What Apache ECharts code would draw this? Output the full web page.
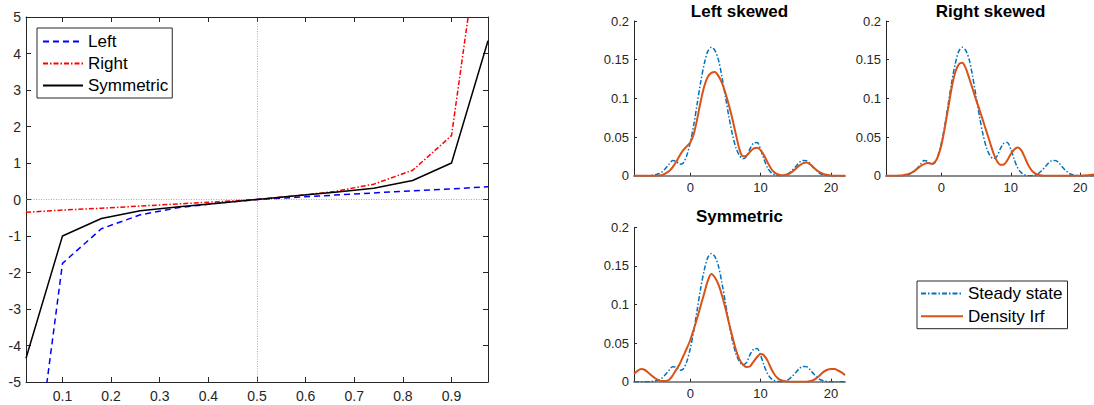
<!DOCTYPE html>
<html>
<head>
<meta charset="utf-8">
<script src="https://cdn.jsdelivr.net/npm/echarts@6/dist/echarts.min.js"></script>
<style>html,body{margin:0;padding:0;background:#fff}#c{width:1094px;height:405px}</style>
</head>
<body>
<div id="c"></div>
<script>
// ---- Left panel: quantile curves ----
const quantiles = [0.025, 0.1, 0.18, 0.26, 0.34, 0.42, 0.5, 0.58, 0.66, 0.74, 0.82, 0.9, 0.975];
const leftVals  = [-9.4, -1.75, -0.8, -0.42, -0.22, -0.1, 0, 0.06, 0.12, 0.18, 0.24, 0.29, 0.35];
const rightVals = [-0.35, -0.29, -0.24, -0.18, -0.12, -0.06, 0, 0.1, 0.22, 0.42, 0.8, 1.75, 8.9];
const symVals   = [-4.35, -1.0, -0.52, -0.31, -0.2, -0.1, 0, 0.1, 0.2, 0.31, 0.52, 1.0, 4.35];
const quantTicks = [0.1, 0.2, 0.3, 0.4, 0.5, 0.6, 0.7, 0.8, 0.9];

// ---- Right panels: densities ----
const xGrid = [-8,-7.5,-7,-6.5,-6,-5.5,-5,-4.5,-4,-3.5,
  -3,-2.5,-2,-1.5,-1,-0.5,0,0.5,1,1.5,
  2,2.5,3,3.5,4,4.5,5,5.5,6,6.5,
  7,7.5,8,8.5,9,9.5,10,10.5,11,11.5,
  12,12.5,13,13.5,14,14.5,15,15.5,16,16.5,
  17,17.5,18,18.5,19,19.5,20,20.5,21,21.5,
  22];
const steadyState = [0,0,0,0,0,0.0003,0.001,0.0025,0.005,0.0095,
  0.015,0.0195,0.0185,0.0148,0.0165,0.026,0.043,0.066,0.094,0.122,
  0.145,0.161,0.166,0.162,0.150,0.128,0.102,0.076,0.053,0.036,
  0.026,0.022,0.025,0.035,0.042,0.043,0.034,0.021,0.010,0.004,
  0.0012,0.0002,0,0.0008,0.003,0.007,0.012,0.017,0.0198,0.0195,
  0.016,0.0105,0.006,0.0025,0.001,0.0002,0,0,0,0,
  0];
const irfLeft = [0,0,0,0,0,0,0,0.0003,0.001,0.003,
  0.006,0.011,0.018,0.026,0.033,0.038,0.043,0.054,0.074,0.097,
  0.116,0.128,0.133,0.134,0.129,0.120,0.107,0.091,0.073,0.053,
  0.034,0.025,0.026,0.031,0.035,0.036,0.033,0.026,0.017,0.009,
  0.004,0.0015,0.0005,0.001,0.002,0.005,0.009,0.013,0.016,0.017,
  0.015,0.011,0.007,0.004,0.002,0.001,0.0003,0,0,0,
  0];
const irfRight = [0,0,0,0,0.0002,0.0006,0.0015,0.003,0.0055,0.009,
  0.0125,0.015,0.0165,0.0155,0.017,0.025,0.040,0.063,0.089,0.115,
  0.134,0.144,0.146,0.139,0.126,0.112,0.098,0.085,0.071,0.057,
  0.043,0.029,0.019,0.014,0.0145,0.020,0.028,0.034,0.0365,0.033,
  0.024,0.014,0.007,0.003,0.001,0.0003,0,0,0,0,
  0,0,0,0,0,0,0,0.0002,0.0005,0.001,
  0.0015];
const irfSym = [0.010,0.014,0.0163,0.0155,0.012,0.008,0.0045,0.002,0.0008,0.0008,
  0.0025,0.008,0.0155,0.023,0.033,0.043,0.054,0.068,0.083,0.099,
  0.115,0.131,0.1395,0.135,0.126,0.112,0.095,0.076,0.058,0.041,
  0.029,0.022,0.019,0.020,0.026,0.032,0.036,0.034,0.027,0.017,
  0.009,0.004,0.0015,0.0005,0,0,0,0,0,0,
  0.0005,0.002,0.005,0.009,0.013,0.0155,0.0164,0.0163,0.0145,0.012,
  0.0085];
const densTicks = [0, 10, 20];
const panelTitles = ['Left skewed', 'Right skewed', 'Symmetric'];

const FONT = '"Liberation Sans", Arial, Helvetica, sans-serif';
const AX = '#262626';
const zip = (xs, ys) => xs.map((x, i) => [x, ys[i]]);

const chart = echarts.init(document.getElementById('c'), null, {renderer: 'svg'});

function densX(gi) {
  return {
    gridIndex: gi, type: 'value', min: -8, max: 22, position: 'bottom',
    axisLine: {show: true, onZero: false, lineStyle: {color: '#8c8c8c', width: 2}},
    axisTick: {show: true, inside: true, length: 3, customValues: densTicks, lineStyle: {color: AX}},
    axisLabel: {show: true, customValues: densTicks, margin: 5, fontSize: 13, color: AX, fontFamily: FONT},
    splitLine: {show: false}
  };
}
function densY(gi) {
  return {
    gridIndex: gi, type: 'value', min: 0, max: 0.2, interval: 0.05, position: 'left',
    axisLine: {show: true, onZero: false, lineStyle: {color: AX, width: 1}},
    axisTick: {show: true, inside: true, length: 3, lineStyle: {color: AX}},
    axisLabel: {show: true, margin: 5, fontSize: 13, color: AX, fontFamily: FONT},
    splitLine: {show: false}
  };
}
// axis index for panel gi (1..3) is gi+1 (indices 0,1 belong to the left panel)
function steady(gi) {
  return {name: 'Steady state', type: 'line', xAxisIndex: gi + 1, yAxisIndex: gi + 1,
    data: zip(xGrid, steadyState), symbol: 'none', smooth: 0.3, z: 3,
    itemStyle: {color: '#0072BD'},
    lineStyle: {color: '#0072BD', width: 1.5, type: [5, 2, 1.5, 2]}};
}
function irf(gi, vals) {
  return {name: 'Density Irf', type: 'line', xAxisIndex: gi + 1, yAxisIndex: gi + 1,
    data: zip(xGrid, vals), symbol: 'none', smooth: 0.3, z: 4,
    itemStyle: {color: '#D95319'},
    lineStyle: {color: '#D95319', width: 2, type: 'solid'}};
}

const legendCommon = {
  orient: 'vertical', borderColor: AX, borderWidth: 1, backgroundColor: '#fff', borderRadius: 0,
  selectedMode: false, itemHeight: 14,
  itemStyle: {opacity: 0, borderWidth: 0},
  textStyle: {fontSize: 17, color: '#000', fontFamily: FONT}
};

const option = {
  animation: false,
  backgroundColor: '#fff',
  textStyle: {fontFamily: FONT},
  grid: [
    {left: 26, top: 17, width: 462, height: 365},
    {left: 634, top: 21, width: 211, height: 154.7},
    {left: 886, top: 21, width: 211, height: 154.7},
    {left: 634, top: 227.3, width: 211, height: 154.4}
  ],
  xAxis: [
    {gridIndex: 0, type: 'value', min: 0.025, max: 0.975, position: 'bottom',
      axisLine: {show: true, onZero: false, lineStyle: {color: AX}},
      axisTick: {show: true, inside: true, length: 5, customValues: quantTicks, lineStyle: {color: AX}},
      axisLabel: {show: true, customValues: quantTicks, margin: 7, fontSize: 14, color: AX, fontFamily: FONT},
      splitLine: {show: false}},
    {gridIndex: 0, type: 'value', min: 0.025, max: 0.975, position: 'top',
      axisLine: {show: true, onZero: false, lineStyle: {color: AX}},
      axisTick: {show: true, inside: true, length: 5, customValues: quantTicks, lineStyle: {color: AX}},
      axisLabel: {show: false}, splitLine: {show: false}},
    densX(1), densX(2), densX(3)
  ],
  yAxis: [
    {gridIndex: 0, type: 'value', min: -5, max: 5, interval: 1, position: 'left',
      axisLine: {show: true, onZero: false, lineStyle: {color: AX}},
      axisTick: {show: true, inside: true, length: 5, lineStyle: {color: AX}},
      axisLabel: {show: true, margin: 5, fontSize: 14, color: AX, fontFamily: FONT},
      splitLine: {show: false}},
    {gridIndex: 0, type: 'value', min: -5, max: 5, interval: 1, position: 'right',
      axisLine: {show: true, onZero: false, lineStyle: {color: AX}},
      axisTick: {show: true, inside: true, length: 5, lineStyle: {color: AX}},
      axisLabel: {show: false}, splitLine: {show: false}},
    densY(1), densY(2), densY(3)
  ],
  legend: [
    Object.assign({}, legendCommon, {data: ['Left', 'Right', 'Symmetric'], left: 37, top: 28,
      itemWidth: 40, itemGap: 5, padding: [5, 4, 4, 5]}),
    Object.assign({}, legendCommon, {data: ['Steady state', 'Density Irf'], left: 917, top: 281,
      itemWidth: 42, itemGap: 5.7, padding: [4, 5, 4, 3]})
  ],
  graphic: [
    {type: 'text', x: 739.5, y: 11, style: {text: panelTitles[0], align: 'center', verticalAlign: 'middle', font: 'bold 17px ' + FONT, fill: '#000'}},
    {type: 'text', x: 990.5, y: 11, style: {text: panelTitles[1], align: 'center', verticalAlign: 'middle', font: 'bold 17px ' + FONT, fill: '#000'}},
    {type: 'text', x: 739.5, y: 216, style: {text: panelTitles[2], align: 'center', verticalAlign: 'middle', font: 'bold 17px ' + FONT, fill: '#000'}}
  ],
  series: [
    {name: 'Left', type: 'line', xAxisIndex: 0, yAxisIndex: 0, data: zip(quantiles, leftVals),
      symbol: 'none', z: 3, itemStyle: {color: '#0000FF'},
      lineStyle: {color: '#0000FF', width: 1.5, type: [6, 4]},
      markLine: {silent: true, symbol: 'none', label: {show: false}, z: 1,
        lineStyle: {color: '#888', width: 0.7, type: [1, 1.5]},
        data: [{xAxis: 0.5}, {yAxis: 0}]}},
    {name: 'Right', type: 'line', xAxisIndex: 0, yAxisIndex: 0, data: zip(quantiles, rightVals),
      symbol: 'none', z: 4, itemStyle: {color: '#FF0000'},
      lineStyle: {color: '#FF0000', width: 1.5, type: [5, 2, 1.5, 2]}},
    {name: 'Symmetric', type: 'line', xAxisIndex: 0, yAxisIndex: 0, data: zip(quantiles, symVals),
      symbol: 'none', z: 5, itemStyle: {color: '#000000'},
      lineStyle: {color: '#000000', width: 1.5, type: 'solid'}},
    steady(1), irf(1, irfLeft),
    steady(2), irf(2, irfRight),
    steady(3), irf(3, irfSym)
  ]
};
chart.setOption(option);
</script>
</body>
</html>
